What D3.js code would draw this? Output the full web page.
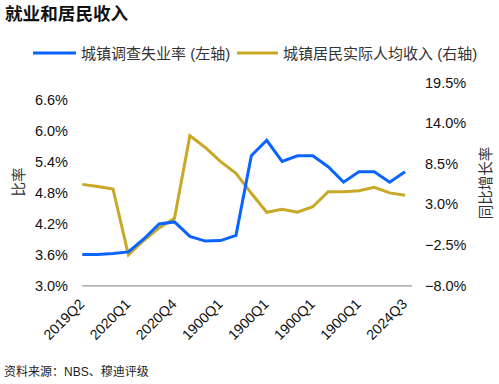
<!DOCTYPE html>
<html><head><meta charset="utf-8">
<script src="https://cdn.jsdelivr.net/npm/d3@7"></script>
<style>
body{margin:0;background:#fff;}
svg{display:block;font-family:"Liberation Sans",Arial,"Noto Sans CJK SC",sans-serif;}
</style></head>
<body><svg id="c" width="499" height="384"></svg>
<script>
const quarters = ["2019Q2","2019Q3","2019Q4","2020Q1","2020Q2","2020Q3","2020Q4","2021Q1","2021Q2","2021Q3","2021Q4","2022Q1","2022Q2","2022Q3","2022Q4","2023Q1","2023Q2","2023Q3","2023Q4","2024Q1","2024Q2","2024Q3"];
const tickLabels = ["2019Q2","2020Q1","2020Q4","1900Q1","1900Q1","1900Q1","1900Q1","2024Q3"];
const tickIndex = [0,3,6,9,12,15,18,21];
const unemployment = [3.6,3.6,3.62,3.65,3.9,4.19,4.23,3.95,3.86,3.87,3.97,5.51,5.81,5.4,5.51,5.51,5.3,5.0,5.2,5.2,5.0,5.2];
const income = [5.7,5.4,5.07,-3.85,-1.9,-0.2,1.1,12.3,10.7,8.77,7.2,4.49,1.92,2.34,1.92,2.67,4.71,4.71,4.84,5.3,4.55,4.22];
const leftTicks = [3.0,3.6,4.2,4.8,5.4,6.0,6.6];
const rightTicks = [-8.0,-2.5,3.0,8.5,14.0,19.5];
const seriesNames = ["城镇调查失业率 (左轴)","城镇居民实际人均收入 (右轴)"];
const colors = ["#0a64ff","#c8a826"];

const svg = d3.select("#c");
const x = d3.scalePoint().domain(quarters).range([82.3,405]);
const yL = d3.scaleLinear().domain([3.0,6.6]).range([285.5,99.5]);
const yR = d3.scaleLinear().domain([-8,19.5]).range([285.5,82.5]);

// title
svg.append("text").attr("x",5).attr("y",20).attr("font-size",17.6).attr("font-weight","bold").attr("fill","#111").text("就业和居民收入");

// legend
const lg = [{x1:33,x2:76,tx:81},{x1:237,x2:278,tx:283}];
lg.forEach((l,i)=>{
  svg.append("line").attr("x1",l.x1).attr("x2",l.x2).attr("y1",53).attr("y2",53).attr("stroke",colors[i]).attr("stroke-width",3);
  svg.append("text").attr("x",l.tx).attr("y",58.5).attr("font-size",15).attr("fill","#333").text(seriesNames[i]);
});

// left axis
const la = svg.append("g").attr("transform","translate(68,0)").call(d3.axisLeft(yL).tickValues(leftTicks).tickSize(0).tickPadding(0).tickFormat(d=>d3.format(".1f")(d)+"%"));
la.select(".domain").remove();
la.selectAll("text").attr("font-size",14.5).attr("fill","#111").attr("font-family",null);
// right axis
const ra = svg.append("g").attr("transform","translate(425,0)").call(d3.axisRight(yR).tickValues(rightTicks).tickSize(0).tickPadding(0).tickFormat(d=>d3.format(".1f")(d)+"%"));
ra.select(".domain").remove();
ra.selectAll("text").attr("font-size",14.5).attr("fill","#111").attr("font-family",null);

// axis titles
svg.append("text").attr("transform","translate(24,182) rotate(-90)").attr("text-anchor","middle").attr("font-size",14.5).attr("fill","#333").text("比率");
svg.append("text").attr("transform","translate(491,183) rotate(-90)").attr("text-anchor","middle").attr("font-size",14.5).attr("fill","#333").text("同比增长率");

// x axis line
svg.append("line").attr("x1",82.3).attr("x2",412).attr("y1",285.8).attr("y2",285.8).attr("stroke","#999").attr("stroke-width",1.3);

// x labels
tickIndex.forEach((qi,k)=>{
  const px = x(quarters[qi]);
  svg.append("text").attr("transform",`translate(${px+3},${305}) rotate(-45)`).attr("text-anchor","end").attr("font-size",14.2).attr("fill","#111").text(tickLabels[k]);
});

// lines
const lineL = d3.line().x((d,i)=>x(quarters[i])).y(d=>yL(d));
const lineR = d3.line().x((d,i)=>x(quarters[i])).y(d=>yR(d));
svg.append("path").attr("d",lineR(income)).attr("fill","none").attr("stroke",colors[1]).attr("stroke-width",3).attr("stroke-linejoin","miter");
svg.append("path").attr("d",lineL(unemployment)).attr("fill","none").attr("stroke",colors[0]).attr("stroke-width",3).attr("stroke-linejoin","miter");

// source
svg.append("text").attr("x",4).attr("y",376).attr("font-size",12).attr("fill","#222").text("资料来源：NBS、穆迪评级");
</script></body></html>
